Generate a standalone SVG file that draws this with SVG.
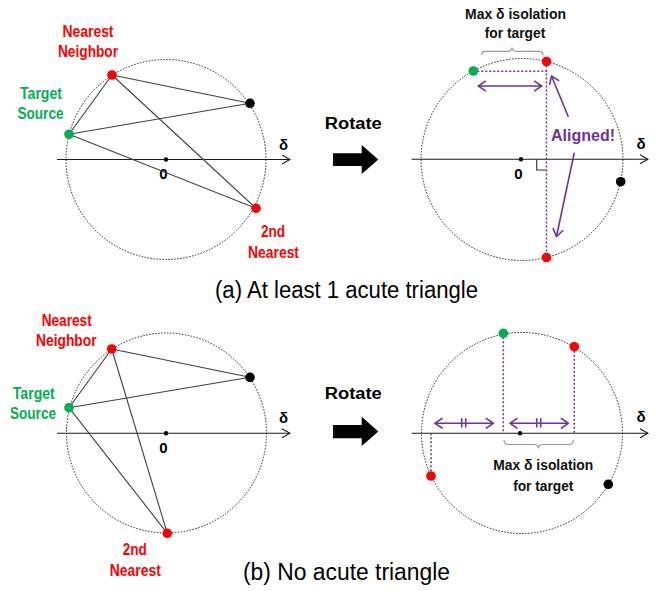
<svg xmlns="http://www.w3.org/2000/svg" width="670" height="591" viewBox="0 0 670 591">
  <style>
    .lbl { font-family: "Liberation Sans", Arial, sans-serif; font-weight: bold; font-size: 16px; text-anchor: middle; }
    .red { fill: #FF0000; }
    .grn { fill: #00B050; }
    .blk { fill: #000000; }
    .ring { fill: none; stroke: #222222; stroke-width: 1; stroke-dasharray: 1.5 1.5; }
    .axis { stroke: #1a1a1a; stroke-width: 1.1; fill: none; marker-end: url(#axisHead); }
    .edge { stroke: #404040; stroke-width: 1.1; fill: none; }
    .proj { stroke: #7030A0; stroke-width: 1.5; stroke-dasharray: 2 2; fill: none; }
    .pline { stroke: #7030A0; stroke-width: 1.6; fill: none; }
    .dbl { marker-start: url(#pHead); marker-end: url(#pHead); }
    .brace { stroke: #9a9a9a; stroke-width: 1.2; fill: none; }
    .title { font-family: "Liberation Sans", Arial, sans-serif; font-size: 23px; text-anchor: middle; fill: #000; }
    .sym { font-family: "Liberation Sans", Arial, sans-serif; font-weight: bold; font-size: 15px; text-anchor: middle; fill: #000; }
    .note { font-family: "Liberation Sans", Arial, sans-serif; font-weight: bold; font-size: 15px; text-anchor: middle; fill: #111; }
  </style>
  <defs>
    <marker id="axisHead" viewBox="0 0 10 10" refX="9" refY="5" markerWidth="10" markerHeight="10" markerUnits="userSpaceOnUse" orient="auto">
      <path d="M1,0.5 L9,5 L1,9.5" fill="none" stroke="#1a1a1a" stroke-width="1.1"/>
    </marker>
    <marker id="pHead" viewBox="0 0 10 12" refX="9" refY="6" markerWidth="10" markerHeight="12" markerUnits="userSpaceOnUse" orient="auto-start-reverse">
      <path d="M1.5,0.8 L9,6 L1.5,11.2" fill="none" stroke="#7030A0" stroke-width="1.6"/>
    </marker>
  </defs>
  <rect width="670" height="591" fill="#ffffff"/>

  <!-- ===== (a) left: original configuration ===== -->
  <g id="a-left-frame">
    <circle class="ring" cx="166" cy="159.5" r="100"/>
    <line class="axis" x1="57" y1="159.5" x2="290" y2="159.5"/>
    <circle cx="166" cy="159.5" r="2.2" fill="#000"/>
    <text class="sym" x="163.5" y="179">0</text>
    <text class="sym" x="283.5" y="149.5">δ</text>
  </g>
  <g id="a-left-edges">
    <line class="edge" x1="112" y1="75" x2="250" y2="103.3"/>
    <line class="edge" x1="112" y1="75" x2="69" y2="134.3"/>
    <line class="edge" x1="112" y1="75" x2="256" y2="208.3"/>
    <line class="edge" x1="69" y1="134.3" x2="250" y2="103.3"/>
    <line class="edge" x1="69" y1="134.3" x2="256" y2="208.3"/>
  </g>
  <g id="a-left-nearest">
    <circle class="red" cx="112" cy="75" r="4.8"/>
    <text class="lbl red" x="88" y="37" textLength="51" lengthAdjust="spacingAndGlyphs">Nearest</text>
    <text class="lbl red" x="88" y="56.5" textLength="60" lengthAdjust="spacingAndGlyphs">Neighbor</text>
  </g>
  <g id="a-left-target">
    <circle class="grn" cx="69" cy="134.3" r="4.8"/>
    <text class="lbl grn" x="41" y="99.3" textLength="42" lengthAdjust="spacingAndGlyphs">Target</text>
    <text class="lbl grn" x="40.5" y="119.3" textLength="46" lengthAdjust="spacingAndGlyphs">Source</text>
  </g>
  <g id="a-left-other">
    <circle class="blk" cx="250" cy="103.3" r="4.8"/>
  </g>
  <g id="a-left-second">
    <circle class="red" cx="256" cy="208.3" r="4.8"/>
    <text class="lbl red" x="273" y="237.3" textLength="24" lengthAdjust="spacingAndGlyphs">2nd</text>
    <text class="lbl red" x="273.5" y="258.3" textLength="51" lengthAdjust="spacingAndGlyphs">Nearest</text>
  </g>

  <!-- rotate step (a) -->
  <g id="a-rotate">
    <text class="lbl" x="353.3" y="129.3" font-size="20" textLength="57" lengthAdjust="spacingAndGlyphs" fill="#000">Rotate</text>
    <polygon points="333,153.3 361.7,153.3 361.7,145 378.3,159.5 361.7,174 361.7,166 333,166" fill="#000"/>
  </g>

  <!-- ===== (a) right: rotated configuration ===== -->
  <g id="a-right-frame">
    <circle class="ring" cx="522" cy="159.5" r="101"/>
    <line class="axis" x1="411.7" y1="159.3" x2="648" y2="159.3"/>
    <circle cx="521" cy="159.3" r="2.2" fill="#000"/>
    <text class="sym" x="518.3" y="179">0</text>
    <text class="sym" x="641" y="149.3">δ</text>
    <path d="M536.7,159.3 V170 H546.5" fill="none" stroke="#333" stroke-width="1.1"/>
  </g>
  <g id="a-right-guides">
    <line class="proj" x1="473.3" y1="71.3" x2="546.5" y2="71.3"/>
    <line class="proj" x1="546.5" y1="61.5" x2="546.5" y2="257.5"/>
    <line class="pline dbl" x1="478.3" y1="86" x2="541.7" y2="86"/>
    <line class="pline" x1="568.3" y1="116.7" x2="551.5" y2="76" marker-end="url(#pHead)"/>
    <line class="pline" x1="574.3" y1="152.7" x2="556.5" y2="236.5" marker-end="url(#pHead)"/>
    <text class="lbl" x="583" y="140.7" font-size="17" textLength="64" lengthAdjust="spacingAndGlyphs" fill="#7030A0">Aligned!</text>
  </g>
  <g id="a-right-isolation">
    <path class="brace" d="M481.7,55 Q481.7,51.3 486,51.3 L507.7,51.3 Q512,51.3 512,47.5 Q512,51.3 516.3,51.3 L538.7,51.3 Q543,51.3 543,55"/>
    <text class="note" x="515.5" y="19.3" textLength="101" lengthAdjust="spacingAndGlyphs">Max δ isolation</text>
    <text class="note" x="515" y="38.3" textLength="60.5" lengthAdjust="spacingAndGlyphs">for target</text>
  </g>
  <g id="a-right-nearest">
    <circle class="red" cx="546.5" cy="61.5" r="4.8"/>
  </g>
  <g id="a-right-target">
    <circle class="grn" cx="473.3" cy="71" r="4.8"/>
  </g>
  <g id="a-right-other">
    <circle class="blk" cx="620.7" cy="181.7" r="4.8"/>
  </g>
  <g id="a-right-second">
    <circle class="red" cx="546.5" cy="257.5" r="4.8"/>
  </g>

  <text class="title" x="346.5" y="298.3" textLength="263" lengthAdjust="spacingAndGlyphs">(a) At least 1 acute triangle</text>

  <!-- ===== (b) left: original configuration ===== -->
  <g id="b-left-frame">
    <circle class="ring" cx="166.5" cy="433" r="100"/>
    <line class="axis" x1="57" y1="433.3" x2="290" y2="433.3"/>
    <circle cx="166" cy="433.3" r="2.2" fill="#000"/>
    <text class="sym" x="163.3" y="453.3">0</text>
    <text class="sym" x="283.5" y="422.7">δ</text>
  </g>
  <g id="b-left-edges">
    <line class="edge" x1="111.7" y1="349" x2="250" y2="377.3"/>
    <line class="edge" x1="111.7" y1="349" x2="69" y2="407.7"/>
    <line class="edge" x1="111.7" y1="349" x2="167.3" y2="533.3"/>
    <line class="edge" x1="69" y1="407.7" x2="250" y2="377.3"/>
    <line class="edge" x1="69" y1="407.7" x2="167.3" y2="533.3"/>
  </g>
  <g id="b-left-nearest">
    <circle class="red" cx="111.7" cy="349" r="4.8"/>
    <text class="lbl red" x="66.7" y="325.7" textLength="50" lengthAdjust="spacingAndGlyphs">Nearest</text>
    <text class="lbl red" x="66.3" y="345.7" textLength="60.5" lengthAdjust="spacingAndGlyphs">Neighbor</text>
  </g>
  <g id="b-left-target">
    <circle class="grn" cx="69" cy="407.7" r="4.8"/>
    <text class="lbl grn" x="33.8" y="399" textLength="42" lengthAdjust="spacingAndGlyphs">Target</text>
    <text class="lbl grn" x="33" y="419.3" textLength="46" lengthAdjust="spacingAndGlyphs">Source</text>
  </g>
  <g id="b-left-other">
    <circle class="blk" cx="250" cy="377.3" r="4.8"/>
  </g>
  <g id="b-left-second">
    <circle class="red" cx="167.3" cy="533.3" r="4.8"/>
    <text class="lbl red" x="134.7" y="555" textLength="24" lengthAdjust="spacingAndGlyphs">2nd</text>
    <text class="lbl red" x="135.3" y="575.7" textLength="51" lengthAdjust="spacingAndGlyphs">Nearest</text>
  </g>

  <!-- rotate step (b) -->
  <g id="b-rotate">
    <text class="lbl" x="353.3" y="399.3" font-size="20" textLength="57" lengthAdjust="spacingAndGlyphs" fill="#000">Rotate</text>
    <polygon points="333,425 361.7,425 361.7,416.7 378.3,431.5 361.7,446 361.7,438.3 333,438.3" fill="#000"/>
  </g>

  <!-- ===== (b) right: rotated configuration ===== -->
  <g id="b-right-frame">
    <circle class="ring" cx="522" cy="433" r="100.5"/>
    <line class="axis" x1="411.7" y1="433.3" x2="648" y2="433.3"/>
    <circle cx="520" cy="433.3" r="2.2" fill="#000"/>
    <text class="sym" x="641" y="421.7">δ</text>
  </g>
  <g id="b-right-guides">
    <line class="proj" x1="503.3" y1="333.3" x2="503.3" y2="433.3"/>
    <line class="proj" x1="574.3" y1="346.7" x2="574.3" y2="433.3"/>
    <line class="proj" x1="431" y1="433.3" x2="431" y2="476"/>
    <line class="pline dbl" x1="435" y1="423.3" x2="493.3" y2="423.3"/>
    <line class="pline dbl" x1="510" y1="423.3" x2="568.3" y2="423.3"/>
    <path class="pline" d="M461.7,418.3 V427.5 M465.7,418.3 V427.5 M536.7,418.3 V427.5 M540.7,418.3 V427.5"/>
  </g>
  <g id="b-right-isolation">
    <path class="brace" d="M504,440 Q504,444.5 508.5,444.5 L534,444.5 Q538.5,444.5 538.5,448.5 Q538.5,444.5 543,444.5 L568.8,444.5 Q573.3,444.5 573.3,440"/>
    <text class="note" x="543.3" y="470" textLength="100" lengthAdjust="spacingAndGlyphs">Max δ isolation</text>
    <text class="note" x="543.3" y="490.7" textLength="60.3" lengthAdjust="spacingAndGlyphs">for target</text>
  </g>
  <g id="b-right-target">
    <circle class="grn" cx="503.3" cy="333.3" r="4.8"/>
  </g>
  <g id="b-right-nearest">
    <circle class="red" cx="574.3" cy="346.7" r="4.8"/>
  </g>
  <g id="b-right-second">
    <circle class="red" cx="431" cy="476" r="4.8"/>
  </g>
  <g id="b-right-other">
    <circle class="blk" cx="608.3" cy="484.3" r="4.8"/>
  </g>

  <text class="title" x="346.5" y="579.5" textLength="207" lengthAdjust="spacingAndGlyphs">(b) No acute triangle</text>
</svg>
